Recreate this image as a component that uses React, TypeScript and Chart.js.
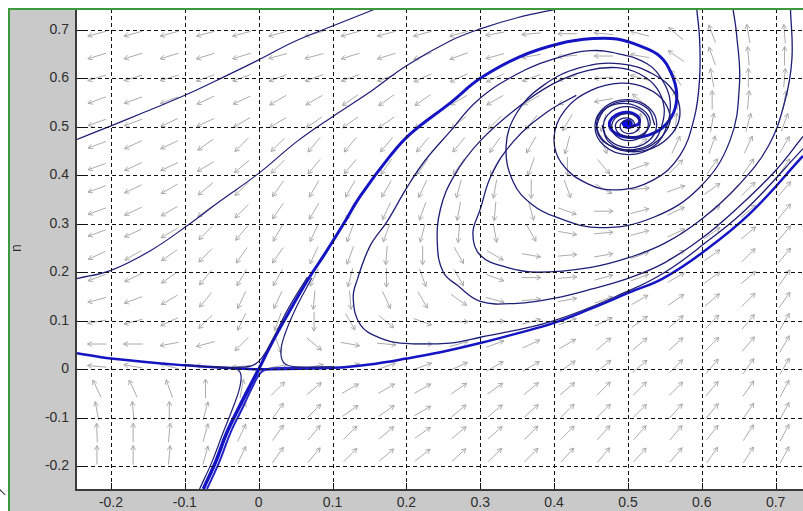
import React, { useEffect, useRef, useState } from "react";
import { Chart, registerables } from "chart.js";
Chart.register(...registerables);

const X_MIN = -0.246, X_MAX = 0.737, Y_MIN = -0.247, Y_MAX = 0.743;
const xTicks = [-0.2, -0.1, 0, 0.1, 0.2, 0.3, 0.4, 0.5, 0.6, 0.7];
const yTicks = [-0.2, -0.1, 0, 0.1, 0.2, 0.3, 0.4, 0.5, 0.6, 0.7];
const yLabel = "n";

const arrowX = [-0.219, -0.17, -0.121, -0.072, -0.023, 0.026, 0.075, 0.124, 0.173, 0.222, 0.271, 0.32, 0.369, 0.418, 0.467, 0.516, 0.565, 0.614, 0.663, 0.712];
const arrowY = [0.692, 0.646, 0.601, 0.555, 0.509, 0.463, 0.418, 0.372, 0.326, 0.281, 0.235, 0.189, 0.143, 0.098, 0.052, 0.006, -0.04, -0.086, -0.131, -0.177];
// arrow direction in degrees (0 = right, 90 = up), rows top to bottom
const arrowDeg = [
  [195, 195, 195, 195, 195, 195, 195, 195, 195, 195, 195, 190, 185, 180, 175, 165, 140, 110, 100, 95],
  [197, 197, 197, 197, 197, 195, 195, 197, 197, 200, 200, 195, 190, 185, 180, 170, 145, 110, 95, 90],
  [197, 197, 197, 200, 200, 200, 200, 200, 200, 205, 205, 205, 200, 195, 185, 165, 125, 100, 90, 85],
  [200, 200, 200, 205, 205, 210, 210, 215, 215, 215, 210, 210, 210, 205, 190, 140, 100, 90, 85, 80],
  [200, 200, 205, 205, 210, 210, 215, 215, 215, 215, 220, 225, 230, 240, 255, 85, 85, 80, 75, 70],
  [200, 205, 205, 215, 225, 225, 230, 230, 230, 230, 230, 235, 240, 255, 290, 40, 65, 70, 65, 60],
  [200, 205, 205, 210, 220, 225, 230, 230, 235, 235, 235, 240, 250, 270, 310, 20, 45, 55, 55, 55],
  [200, 205, 210, 220, 225, 235, 240, 240, 240, 245, 255, 260, 270, 290, 330, 5, 20, 35, 45, 50],
  [200, 205, 210, 215, 225, 235, 240, 245, 245, 250, 260, 265, 285, 340, 0, 15, 25, 35, 40, 50],
  [200, 205, 210, 225, 230, 240, 245, 250, 250, 255, 265, 280, 300, 350, 5, 15, 25, 35, 40, 50],
  [205, 210, 215, 225, 235, 235, 245, 250, 265, 270, 300, 330, 350, 5, 10, 20, 30, 35, 45, 50],
  [200, 205, 215, 230, 240, 240, 245, 255, 270, 290, 300, 340, 0, 5, 15, 20, 30, 35, 40, 55],
  [195, 200, 210, 230, 245, 245, 265, 275, 295, 300, 325, 345, 5, 10, 20, 30, 35, 40, 45, 55],
  [190, 195, 205, 225, 245, 250, 270, 300, 320, 340, 0, 5, 15, 20, 25, 35, 40, 45, 50, 60],
  [180, 180, 190, 195, 225, 290, 320, 350, 355, 0, 15, 20, 25, 30, 40, 40, 42, 45, 50, 60],
  [175, 170, 165, 175, 185, 10, 10, 15, 20, 20, 25, 30, 30, 35, 40, 40, 45, 50, 55, 60],
  [115, 115, 110, 90, 80, 45, 40, 30, 30, 30, 35, 35, 40, 40, 45, 45, 45, 50, 55, 62],
  [100, 95, 90, 75, 65, 55, 45, 35, 35, 30, 40, 40, 42, 45, 45, 45, 48, 50, 55, 62],
  [92, 90, 85, 75, 65, 55, 50, 45, 40, 35, 40, 42, 45, 45, 48, 48, 50, 52, 57, 62],
  [90, 90, 85, 75, 65, 55, 50, 45, 40, 38, 42, 45, 45, 48, 50, 48, 50, 55, 58, 62],
];

// trajectories, [x, n]
const curveA = [[-0.246, 0.474], [-0.2, 0.502], [-0.155, 0.53], [-0.1, 0.565], [-0.047, 0.603], [0, 0.638], [0.047, 0.675], [0.1, 0.708], [0.151, 0.739], [0.16, 0.745]];
const curveB = [[-0.246, 0.187], [-0.2, 0.204], [-0.146, 0.245], [-0.097, 0.296], [-0.053, 0.346], [0, 0.404], [0.052, 0.47], [0.1, 0.521], [0.147, 0.568], [0.2, 0.626], [0.259, 0.677], [0.3, 0.702], [0.35, 0.725], [0.41, 0.745]];
const stableUp = [[0, 0], [0.02, 0.06], [0.04, 0.115], [0.066, 0.183], [0.09, 0.239], [0.115, 0.3], [0.138, 0.358], [0.178, 0.44], [0.205, 0.485], [0.26, 0.55], [0.3, 0.6], [0.354, 0.645], [0.408, 0.672], [0.453, 0.682], [0.485, 0.681], [0.516, 0.667], [0.543, 0.646], [0.559, 0.609], [0.566, 0.568], [0.562, 0.53], [0.548, 0.5], [0.528, 0.483], [0.505, 0.478], [0.485, 0.485], [0.475, 0.502], [0.48, 0.52], [0.497, 0.53], [0.513, 0.522], [0.515, 0.507], [0.503, 0.5]];
const unstableLeft = [[0, 0], [-0.034, 0.002], [-0.1, 0.008], [-0.2, 0.022], [-0.246, 0.033]];
const unstableRight = [[0, 0], [0.1, 0.003], [0.15, 0.01], [0.2, 0.022], [0.246, 0.035], [0.3, 0.054], [0.35, 0.074], [0.399, 0.095], [0.45, 0.125], [0.503, 0.159], [0.547, 0.187], [0.601, 0.241], [0.665, 0.321], [0.737, 0.44]];
const stableDown = [[-0.075, -0.247], [-0.058, -0.19], [-0.043, -0.13], [-0.027, -0.08], [-0.012, -0.035], [0, 0]];
const branchRightLow = [[-0.07, -0.247], [-0.053, -0.19], [-0.038, -0.13], [-0.022, -0.08], [-0.008, -0.035], [0.004, -0.005], [0.02, 0.002], [0.06, 0.003], [0.1, 0.004]];
const branchLeftLow = [[-0.08, -0.247], [-0.063, -0.19], [-0.048, -0.13], [-0.035, -0.08], [-0.026, -0.04], [-0.024, -0.012], [-0.03, 0.0], [-0.05, 0.003], [-0.1, 0.009]];
const branchLeftUp = [[0.066, 0.19], [0.04, 0.125], [0.02, 0.065], [0.005, 0.025], [-0.008, 0.008], [-0.03, 0.004], [-0.06, 0.005]];
const branchRightUp = [[0.072, 0.188], [0.05, 0.125], [0.035, 0.07], [0.03, 0.035], [0.035, 0.012], [0.05, 0.005], [0.1, 0.005]];
const spiral1 = [[0.505, 0.503], [0.5045, 0.5087], [0.5, 0.5128], [0.4936, 0.5112], [0.4895, 0.503], [0.4915, 0.4922], [0.5, 0.486], [0.5104, 0.4897], [0.5162, 0.503], [0.5125, 0.5189], [0.5, 0.5272], [0.4856, 0.5214], [0.4781, 0.503], [0.4835, 0.482], [0.5, 0.4716], [0.5184, 0.4795], [0.5275, 0.503], [0.5205, 0.5291], [0.5, 0.5416], [0.4776, 0.5316], [0.4668, 0.503], [0.4755, 0.4718], [0.5, 0.4572], [0.5265, 0.4694], [0.5389, 0.503], [0.5285, 0.5393], [0.5, 0.556], [0.4695, 0.5417], [0.4554, 0.503], [0.4675, 0.4616], [0.5, 0.4427], [0.5345, 0.4592], [0.553, 0.503], [0.557, 0.554], [0.547, 0.595], [0.526, 0.63], [0.489, 0.65], [0.449, 0.657], [0.404, 0.642], [0.35, 0.609], [0.296, 0.554], [0.259, 0.49], [0.225, 0.43], [0.2, 0.373], [0.174, 0.305], [0.151, 0.255], [0.134, 0.187], [0.128, 0.146], [0.138, 0.091], [0.165, 0.064], [0.192, 0.054], [0.259, 0.054], [0.3, 0.066], [0.399, 0.1], [0.503, 0.163], [0.55, 0.2], [0.6, 0.255], [0.66, 0.33], [0.737, 0.455]];
const spiral2 = [[0.5365, 0.503], [0.5268, 0.5371], [0.5, 0.553], [0.4713, 0.5396], [0.4579, 0.503], [0.462, 0.478], [0.475, 0.462], [0.495, 0.453], [0.515, 0.455], [0.535, 0.47], [0.545, 0.498], [0.549, 0.539], [0.539, 0.58], [0.516, 0.609], [0.485, 0.622], [0.445, 0.616], [0.399, 0.589], [0.35, 0.539], [0.3, 0.471], [0.265, 0.4], [0.246, 0.33], [0.242, 0.255], [0.25, 0.2], [0.269, 0.173], [0.3, 0.14], [0.35, 0.136], [0.399, 0.146], [0.45, 0.165], [0.503, 0.189], [0.55, 0.22], [0.6, 0.27], [0.65, 0.335], [0.7, 0.41], [0.737, 0.48]];
const spiral3 = [[0.4648, 0.503], [0.4737, 0.4695], [0.5, 0.4515], [0.5321, 0.4622], [0.556, 0.505], [0.55, 0.55], [0.525, 0.58], [0.49, 0.59], [0.45, 0.575], [0.415, 0.535], [0.4, 0.48], [0.41, 0.425], [0.445, 0.383], [0.485, 0.37], [0.534, 0.39], [0.57, 0.44], [0.59, 0.52], [0.597, 0.6], [0.597, 0.68], [0.593, 0.745]];
const spiral4 = [[0.5, 0.497], [0.507, 0.5], [0.508, 0.51], [0.5, 0.518], [0.488, 0.514], [0.483, 0.5], [0.49, 0.484], [0.507, 0.478], [0.524, 0.49], [0.53, 0.512], [0.52, 0.535], [0.498, 0.548], [0.472, 0.54], [0.458, 0.512], [0.465, 0.475], [0.49, 0.452], [0.525, 0.452], [0.555, 0.478], [0.57, 0.52], [0.563, 0.57], [0.535, 0.608], [0.49, 0.63], [0.435, 0.622], [0.385, 0.585], [0.35, 0.53], [0.335, 0.46], [0.345, 0.385], [0.37, 0.34], [0.404, 0.313], [0.462, 0.292], [0.534, 0.313], [0.597, 0.375], [0.638, 0.471], [0.651, 0.589], [0.647, 0.692], [0.642, 0.745]];
const spiral5 = [[0.3, 0.33], [0.29, 0.28], [0.3, 0.235], [0.336, 0.21], [0.377, 0.2], [0.45, 0.21], [0.503, 0.231], [0.55, 0.26], [0.6, 0.31], [0.65, 0.38], [0.69, 0.46], [0.712, 0.55], [0.722, 0.64], [0.72, 0.745]];
const spiral5Top = [[0.3, 0.33], [0.315, 0.4], [0.345, 0.47], [0.39, 0.53], [0.43, 0.565]];
const centreBlob = [[0.497, 0.505], [0.503, 0.507], [0.5, 0.511], [0.495, 0.507], [0.499, 0.501], [0.505, 0.503]];

const thin = "#1d1d78";
const thick = "#1414c4";

// fixed frame geometry of the screenshot (pixels)
const PLOT_LEFT = 77, PLOT_TOP = 9, PLOT_BOTTOM = 489, FIG_W = 803, FIG_H = 511;
const PANEL = "#c9c9c9";
const LABEL_FONT = "14px 'Liberation Sans', Arial, sans-serif";

function ds(points: number[][], color: string, width: number) {
  return {
    type: "line" as const,
    data: points.map((p) => ({ x: p[0], y: p[1] })),
    borderColor: color,
    borderWidth: width,
    pointRadius: 0,
    tension: 0.4,
    fill: false,
  };
}

const arrowPlugin = {
  id: "arrows",
  beforeDatasetsDraw(chart: any) {
    const { ctx, scales, chartArea } = chart;
    const xs = scales.x, ys = scales.y;
    ctx.save();
    ctx.beginPath();
    ctx.rect(chartArea.left, chartArea.top, chartArea.right - chartArea.left, chartArea.bottom - chartArea.top);
    ctx.clip();
    ctx.strokeStyle = "#ababab";
    ctx.lineWidth = 1;
    const L = 19;
    for (let j = 0; j < arrowY.length; j++) {
      for (let i = 0; i < arrowX.length; i++) {
        const cx = xs.getPixelForValue(arrowX[i]);
        const cy = ys.getPixelForValue(arrowY[j]);
        const a = (arrowDeg[j][i] * Math.PI) / 180;
        const dx = Math.cos(a), dy = -Math.sin(a);
        const x0 = cx - (dx * L) / 2, y0 = cy - (dy * L) / 2;
        const x1 = cx + (dx * L) / 2, y1 = cy + (dy * L) / 2;
        ctx.beginPath();
        ctx.moveTo(x0, y0);
        ctx.lineTo(x1, y1);
        const h = 5, s = 0.5;
        const ang = Math.atan2(dy, dx);
        ctx.moveTo(x1 - h * Math.cos(ang - s), y1 - h * Math.sin(ang - s));
        ctx.lineTo(x1, y1);
        ctx.lineTo(x1 - h * Math.cos(ang + s), y1 - h * Math.sin(ang + s));
        ctx.stroke();
      }
    }
    ctx.restore();
  },
};

const framePlugin = {
  id: "frame",
  afterDraw(chart: any) {
    const { ctx, chartArea, scales } = chart;
    ctx.save();
    ctx.strokeStyle = "#111";
    ctx.lineWidth = 1;
    ctx.setLineDash([4, 3]);
    ctx.beginPath();
    ctx.rect(chartArea.left, chartArea.top, chartArea.right - chartArea.left, chartArea.bottom - chartArea.top);
    ctx.clip();
    for (const t of xTicks) {
      const px = Math.round(scales.x.getPixelForValue(t)) + 0.5;
      ctx.beginPath();
      ctx.moveTo(px, chartArea.top);
      ctx.lineTo(px, chartArea.bottom);
      ctx.stroke();
    }
    for (const t of yTicks) {
      const py = Math.round(scales.y.getPixelForValue(t)) + 0.5;
      ctx.beginPath();
      ctx.moveTo(chartArea.left, py);
      ctx.lineTo(chartArea.right, py);
      ctx.stroke();
    }
    ctx.setLineDash([]);
    for (const t of xTicks) {
      const px = Math.round(scales.x.getPixelForValue(t)) + 0.5;
      ctx.beginPath();
      ctx.moveTo(px, chartArea.bottom);
      ctx.lineTo(px, chartArea.bottom - 6);
      ctx.stroke();
    }
    for (const t of yTicks) {
      const py = Math.round(scales.y.getPixelForValue(t)) + 0.5;
      ctx.beginPath();
      ctx.moveTo(chartArea.left, py);
      ctx.lineTo(chartArea.left + 7, py);
      ctx.stroke();
    }
    ctx.restore();
  },
};

type Labels = { xs: { t: number; px: number }[]; ys: { t: number; py: number }[] };

function fmt(t: number) {
  return t === 0 ? "0" : t.toFixed(1);
}

export default function App() {
  const ref = useRef<HTMLCanvasElement>(null);
  const [labels, setLabels] = useState<Labels | null>(null);
  useEffect(() => {
    document.body.style.margin = "0";
    const chart = new Chart(ref.current!, {
      type: "scatter",
      data: {
        datasets: [
          ds(curveA, thin, 1.2),
          ds(curveB, thin, 1.2),
          ds(spiral1, thin, 1.3),
          ds(spiral2, thin, 1.3),
          ds(spiral3, thin, 1.3),
          ds(spiral4, thin, 1.3),
          ds(spiral5, thin, 1.3),
          ds(spiral5Top, thin, 1.3),
          ds(branchLeftUp, thin, 1.2),
          ds(branchRightUp, thin, 1.2),
          ds(branchLeftLow, thin, 1.2),
          ds(branchRightLow, "#2424c8", 2),
          ds(stableUp, thick, 3),
          ds(stableDown, thick, 3.5),
          ds(unstableLeft, thick, 2.5),
          ds(unstableRight, thick, 2.5),
          ds(centreBlob, "#0a0ae0", 5),
        ] as any,
      },
      options: {
        animation: false,
        responsive: false,
        layout: { padding: { left: 0, top: PLOT_TOP, right: 0, bottom: 0 } },
        plugins: { legend: { display: false }, tooltip: { enabled: false } },
        scales: {
          x: {
            type: "linear", min: X_MIN, max: X_MAX,
            grid: { display: false }, border: { display: false },
            ticks: { display: false },
            afterFit: (s: any) => { s.height = FIG_H - PLOT_BOTTOM; },
          },
          y: {
            type: "linear", min: Y_MIN, max: Y_MAX,
            grid: { display: false }, border: { display: false },
            ticks: { display: false },
            afterFit: (s: any) => { s.width = PLOT_LEFT; },
          },
        },
      },
      plugins: [framePlugin, arrowPlugin],
    });
    setLabels({
      xs: xTicks.map((t) => ({ t, px: chart.scales.x.getPixelForValue(t) })),
      ys: yTicks.map((t) => ({ t, py: chart.scales.y.getPixelForValue(t) })),
    });
    return () => chart.destroy();
  }, []);
  const abs = (s: React.CSSProperties): React.CSSProperties => ({ position: "absolute", ...s });
  return (
    <div style={{ position: "absolute", left: 0, top: 0, width: FIG_W, height: FIG_H, overflow: "hidden", background: "#ffffff" }}>
      <canvas ref={ref} width={FIG_W} height={FIG_H} style={{ display: "block", position: "absolute", left: 0, top: 0 }} />
      <div style={abs({ left: 9, top: 9, width: PLOT_LEFT - 11, height: FIG_H - 9, background: PANEL, zIndex: 2 })} />
      <div style={abs({ left: 9, top: PLOT_BOTTOM + 2, width: FIG_W - 9, height: FIG_H - PLOT_BOTTOM - 2, background: PANEL, zIndex: 2 })} />
      <div style={abs({ left: PLOT_LEFT - 2, top: PLOT_TOP, width: 2, height: PLOT_BOTTOM - PLOT_TOP + 2, background: "#3a3a3a", zIndex: 3 })} />
      <div style={abs({ left: PLOT_LEFT - 2, top: PLOT_BOTTOM, width: FIG_W, height: 2, background: "#3a3a3a", zIndex: 3 })} />
      <div style={abs({ left: 8, top: 8, width: 1.5, height: FIG_H, background: "#3c9a3c", zIndex: 3 })} />
      <div style={abs({ left: 8, top: 8, width: FIG_W, height: 1.5, background: "#3c9a3c", zIndex: 3 })} />
      <div style={abs({ left: 0, top: 489, width: 8, height: 1, background: "#222", transform: "rotate(45deg)", transformOrigin: "0 0", zIndex: 3 })} />
      {labels && labels.ys.map(({ t, py }) => (
        <div key={"y" + t} style={abs({ right: FIG_W - (PLOT_LEFT - 8), top: py - 9, height: 18, lineHeight: "18px", font: LABEL_FONT, color: "#2e2e2e", zIndex: 4, whiteSpace: "nowrap" })}>{fmt(t)}</div>
      ))}
      {labels && labels.xs.map(({ t, px }) => (
        <div key={"x" + t} style={abs({ left: px - 20, width: 40, textAlign: "center", top: PLOT_BOTTOM + 5, lineHeight: "18px", font: LABEL_FONT, color: "#2e2e2e", zIndex: 4 })}>{fmt(t)}</div>
      ))}
      <div style={abs({ left: 7, top: 239, width: 20, height: 18, lineHeight: "18px", textAlign: "center", font: LABEL_FONT, color: "#2e2e2e", transform: "rotate(-90deg)", zIndex: 4 })}>{yLabel}</div>
    </div>
  );
}
